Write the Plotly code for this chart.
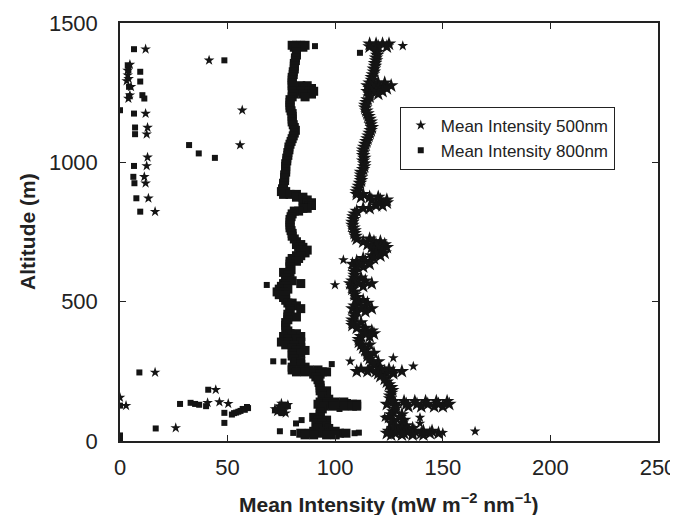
import plotly.graph_objects as go

# ---- 800 nm: dense profile, (altitude m, [intensities]) ----
band_800 = [
    (1420, [80, 82, 84, 86]), (1413, [81, 85]), (1405, [82]), (1395, [82]), (1385, [82]),
    (1375, [81.5]), (1365, [81.5]), (1355, [81]), (1345, [81]), (1335, [81]), (1325, [80.5]),
    (1315, [80.5]), (1305, [80]), (1295, [80]), (1285, [80]), (1275, [80, 84, 87]),
    (1265, [81, 86, 89]), (1255, [80, 84, 88, 90]), (1245, [81, 85, 89]), (1235, [80, 86]),
    (1225, [79]), (1215, [79]), (1205, [79]), (1195, [79]), (1185, [79.5]), (1175, [80]),
    (1165, [80]), (1155, [80]), (1145, [80]), (1135, [80.5]), (1125, [81]), (1115, [81.5]),
    (1105, [81]), (1095, [80.5]), (1085, [80]), (1075, [79.5]), (1065, [79]), (1055, [78.5]),
    (1045, [78.5]), (1035, [78]), (1025, [78]), (1015, [77.5]), (1005, [77.5]), (995, [77]),
    (985, [77]), (975, [77]), (965, [77]), (955, [76.5]), (945, [76.5]), (935, [76.5]),
    (925, [76]), (915, [76]), (905, [75.5]), (895, [75, 77]), (885, [76, 79, 82]),
    (875, [82, 85]), (865, [85, 87]), (855, [87, 89]), (845, [88, 89]), (835, [87, 85]),
    (825, [83, 81]), (815, [80]), (805, [79.5]), (795, [79]), (785, [79]), (775, [79]),
    (765, [79]), (755, [79.5]), (745, [80]), (735, [80]), (725, [81]), (715, [82]),
    (705, [82, 84]), (695, [83, 85]), (685, [84, 87]), (675, [84, 86]), (665, [82, 84]),
    (655, [80, 83]), (645, [79, 82]), (635, [79]), (625, [79]), (615, [79.5]), (605, [79, 76]),
    (595, [78]), (585, [77]), (575, [77, 80]), (565, [76, 84]), (555, [75, 77]), (545, [74, 78]),
    (535, [73, 76]), (525, [74, 77]), (515, [76]), (505, [77]), (495, [78, 80]), (485, [79, 82]),
    (475, [79, 84]), (465, [79]), (455, [78]), (445, [78, 82]), (435, [78]), (425, [77]),
    (415, [77]), (405, [77]), (395, [78]), (385, [79, 82]), (375, [76, 80, 84]), (365, [78, 82]),
    (355, [75, 78, 84]), (345, [77, 81]), (335, [80, 84]), (325, [82, 86]), (315, [80, 84]),
    (305, [80]), (295, [81]), (285, [82, 84]), (275, [84]), (265, [86, 80]),
    (255, [80, 84, 88, 92]), (248, [82, 86, 90, 94, 96]), (240, [90, 93]), (230, [91]),
    (220, [92]), (210, [92.5]), (200, [93]), (190, [93]), (180, [93, 96]), (170, [94]),
    (160, [94]), (150, [94, 97]), (140, [93, 96, 100, 104]), (132, [92, 96, 100, 104, 108, 110]),
    (125, [95, 99, 104, 108, 110]), (115, [94]), (105, [93]), (95, [93]), (85, [93, 90]),
    (75, [92, 96]), (65, [91, 94]), (55, [93, 96]), (45, [92, 97]), (35, [90, 95, 100]),
    (28, [84, 88, 93, 98, 102, 105]), (22, [86, 90, 96, 100]),
]

# ---- 800 nm: isolated points ----
int_800_pts = [6.5, 3.6, 3.9, 9.4, 9.4, 4.2, 10.4, 11.3, 4.2, 0, 6.5, 7, 7, 32.1, 36.6, 44.1,
               48.5, 6.5, 6.2, 6.7, 7.6, 9.4, 90.6, 111.5, 68.2, 71.2, 98.4, 76, 84,
               9, 41, 0, 27.9, 32.8, 34.9, 36.8, 40, 48.5, 48.5, 16.6,
               52, 53, 54, 55, 56, 57, 58, 59.5, 59,
               72, 74, 76, 78, 75, 77, 74.3, 80.5, 81.8, 84.4, 102, 105, 109, 111,
               0, 0, 0, 0, 102, 106, 110]
alt_800_pts = [1406, 1348, 1331, 1325, 1290, 1271, 1241, 1229, 1237, 1187, 1175, 1125, 1101, 1062, 1032, 1016,
               1366, 987, 948, 925, 871, 823, 1417, 1393, 560, 286, 276, 285, 560,
               246, 184, 127, 133, 137, 133, 130, 125, 101, 65, 45,
               95, 100, 102, 105, 108, 115, 112, 118, 122,
               110, 120, 115, 125, 100, 130, 35, 29, 63, 75, 30, 30, 28, 30,
               0, 6, 12, 20, 115, 140, 130]

# ---- 500 nm: dense profile ----
band_500 = [
    (1425, [116, 119, 122, 125]), (1415, [116, 120, 124]), (1405, [119]), (1395, [119.5]),
    (1385, [119.5]), (1375, [119]), (1365, [119]), (1355, [118.5]), (1345, [118.5]),
    (1335, [118]), (1325, [118]), (1315, [117.5]), (1305, [117]), (1295, [117]),
    (1285, [116, 120, 123]), (1275, [115, 119, 123, 126]), (1265, [116, 120, 124]),
    (1255, [115, 119, 122]), (1245, [116, 120]), (1235, [116]), (1225, [115]), (1215, [114.5]),
    (1205, [114]), (1195, [114]), (1185, [114.5]), (1175, [115]), (1165, [115.5]), (1155, [116]),
    (1145, [116.5]), (1135, [116.5]), (1125, [117]), (1115, [116.5]), (1105, [116]),
    (1095, [115.5]), (1085, [115]), (1075, [114.5]), (1065, [114]), (1055, [113.5]),
    (1045, [113]), (1035, [113]), (1025, [113]), (1015, [113.5]), (1005, [113]), (995, [113.5]),
    (985, [113.5]), (975, [113]), (965, [112]), (955, [112]), (945, [112]), (935, [112]),
    (925, [111.5]), (915, [111]), (905, [110.5]), (895, [110]), (885, [110, 113]),
    (875, [112, 116, 120]), (865, [117, 121, 124]), (855, [121, 124]), (845, [122, 119]),
    (835, [116, 113]), (825, [110]), (815, [109]), (805, [108.5]), (795, [108.5]), (785, [108]),
    (775, [108]), (765, [108.5]), (755, [109]), (745, [109]), (735, [109.5]), (725, [110, 116]),
    (715, [113, 118, 121]), (705, [115, 119, 123]), (695, [117, 121, 124]), (685, [118, 122]),
    (675, [119, 123]), (665, [117, 121]), (655, [113, 118]), (645, [110, 114]),
    (635, [108, 111, 116]), (625, [110, 113]), (615, [109]), (605, [109]), (595, [109]),
    (585, [109, 112]), (575, [108, 114]), (565, [107, 111, 117]), (555, [108, 113]), (545, [108]),
    (535, [109]), (525, [109]), (515, [110]), (505, [110, 113]), (495, [111, 115]),
    (485, [109, 114]), (475, [108, 112, 117]), (465, [110, 114]), (455, [109]), (445, [109]),
    (435, [108]), (425, [108, 112]), (415, [108]), (405, [110, 114]), (395, [113, 117]),
    (385, [114, 118]), (375, [112, 116]), (365, [111]), (355, [111]), (345, [112, 116]),
    (335, [113]), (325, [114]), (315, [115, 118]), (305, [115]), (295, [116]), (285, [117, 120]),
    (275, [118]), (265, [120]), (258, [112, 116, 121, 125]), (250, [110, 115, 119, 123, 127, 131]),
    (242, [120, 124, 127]), (232, [121]), (222, [123]), (212, [124]), (202, [125]), (192, [126]),
    (182, [126.5]), (172, [126]), (162, [125.5]), (152, [125.5]),
    (142, [127, 132, 137, 142, 147, 152]), (132, [124, 128, 133, 138, 143, 148, 153]),
    (124, [128, 134, 140, 146, 150]), (115, [128]), (105, [127]), (95, [126, 131]),
    (85, [125, 130]), (75, [127, 132]), (65, [126, 131]), (55, [128, 133]), (45, [127, 131, 136]),
    (35, [125, 129, 133, 137, 141, 145]), (28, [124, 128, 132, 136, 140, 144, 148]),
    (22, [126, 131, 136, 141]),
]

# ---- 500 nm: isolated points ----
int_500_pts = [11.9, 4.6, 3.6, 3.1, 5.1, 4.6, 3.9, 11.9, 12.8, 12.4, 12.8, 12.4, 11.3, 11.9, 13.2,
               16.3, 41.4, 56.8, 55.8, 3.5, 4.0,
               16.3, 44.5, 0, 2.8, 40.7, 46.2, 50.3, 25.9,
               72, 74, 76, 78, 75, 77, 73,
               131.4, 99.9, 103.8, 107, 136.3, 127, 165, 150, 139.4, 139.4, 123]
alt_500_pts = [1406, 1351, 1313, 1292, 1271, 1241, 1229, 1175, 1125, 1101, 1018, 987, 948, 925, 871,
               823, 1366, 1187, 1062, 1330, 1300,
               246, 184, 156, 127, 137, 140, 134, 47,
               115, 125, 108, 130, 135, 100, 105,
               1418, 560, 650, 286, 268, 298, 35, 30, 84, 63, 84]

x_ticks = [0, 50, 100, 150, 200, 250]
y_ticks = [0, 500, 1000, 1500]
x_title = "<b>Mean Intensity (mW m<sup>−2</sup> nm<sup>−1</sup>)</b>"
y_title = "<b>Altitude (m)</b>"


def expand(band):
    xs, ys = [], []
    for alt, vals in band:
        for v in vals:
            xs.append(v)
            ys.append(alt)
    return xs, ys


bx800, by800 = expand(band_800)
bx500, by500 = expand(band_500)

INK = "#141414"
FONT = "Liberation Sans, Arial, sans-serif"
fig = go.Figure()
fig.add_trace(go.Scatter(x=int_500_pts, y=alt_500_pts, mode="markers", name="Mean Intensity 500nm",
                         marker=dict(symbol="star", size=8, color=INK)))
fig.add_trace(go.Scatter(x=int_800_pts, y=alt_800_pts, mode="markers", name="Mean Intensity 800nm",
                         marker=dict(symbol="square", size=6, color=INK)))
fig.add_trace(go.Scatter(x=bx500, y=by500, mode="markers", showlegend=False,
                         marker=dict(symbol="star", size=11, color=INK)))
fig.add_trace(go.Scatter(x=bx800, y=by800, mode="markers", showlegend=False,
                         marker=dict(symbol="square", size=9, color=INK)))

axis_common = dict(showline=True, linecolor="#222", linewidth=1.5, mirror="ticks", ticks="inside",
                   ticklen=6, tickcolor="#222", tickwidth=1.3, showgrid=False, zeroline=False,
                   automargin=False,
                   tickfont=dict(family=FONT, size=22, color="#222"))

# the page adds an 8px body margin, so margins are offset to land the plot area
# at the reference's pixel positions
fig.update_layout(
    width=678, height=515,
    margin=dict(l=112, r=28, t=15, b=82),
    paper_bgcolor="white", plot_bgcolor="white",
    showlegend=True,
    legend=dict(x=0.52, y=0.80, xanchor="left", yanchor="top",
                bordercolor="#222", borderwidth=1, bgcolor="white",
                font=dict(family=FONT, size=17, color="#222"),
                tracegroupgap=0, itemwidth=30),
    xaxis=dict(range=[0, 250], tickvals=x_ticks, ticklabelstandoff=6, **axis_common),
    yaxis=dict(range=[0, 1500], tickvals=y_ticks, ticklabelstandoff=16, **axis_common),
    annotations=[
        dict(text=x_title, xref="paper", yref="paper", x=0.5, y=0, xanchor="center",
             yanchor="middle", yshift=-62, showarrow=False,
             font=dict(family=FONT, size=21, color="#222")),
        dict(text=y_title, xref="paper", yref="paper", x=0, y=0.5, xanchor="center",
             yanchor="middle", xshift=-93, textangle=-90, showarrow=False,
             font=dict(family=FONT, size=21, color="#222")),
    ],
)

fig.write_html("out.html")
